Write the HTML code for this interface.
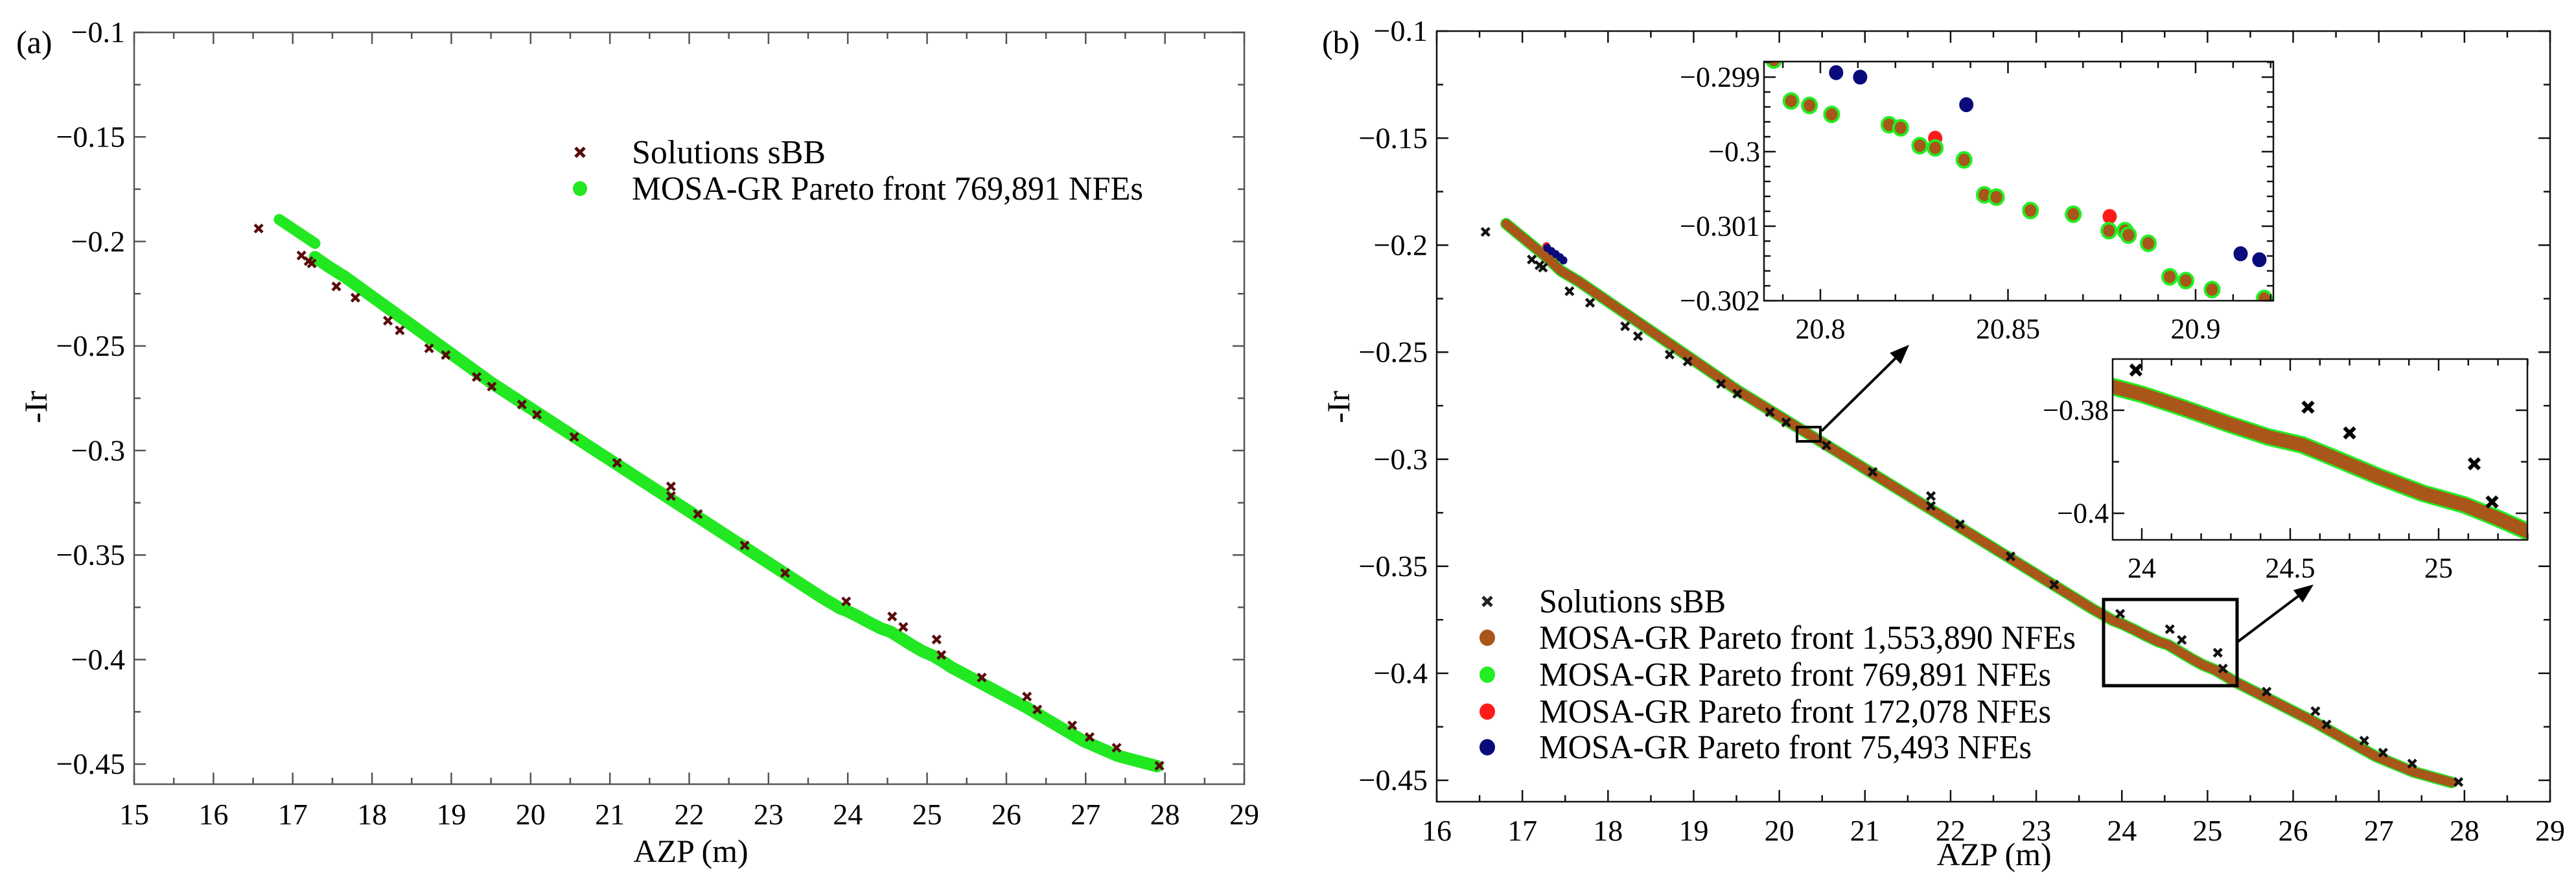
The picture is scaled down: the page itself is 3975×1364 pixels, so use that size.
<!DOCTYPE html>
<html><head><meta charset="utf-8">
<style>
html,body{margin:0;padding:0;background:#fff;}
svg{display:block;font-family:"Liberation Serif","Times New Roman",serif;}
svg text{font-family:"Liberation Serif","Times New Roman",serif;}
</style></head>
<body>
<svg id="fig" width="3975" height="1364" viewBox="0 0 3975 1364" font-family="Liberation Serif, serif" xmlns="http://www.w3.org/2000/svg">
<rect x="0" y="0" width="3975" height="1364" fill="#fff"/>
<g id="pa"></g>
<g id="pb"></g>
</svg>
<script>
// ---- data ----
const sbbX = [16.57,17.11,17.2,17.24,17.55,17.79,18.2,18.35,18.72,18.93,19.32,19.51,19.89,20.08,20.55,21.09,21.77,21.77,22.11,22.7,23.21,23.98,24.56,24.7,25.12,25.18,25.69,26.26,26.39,26.83,27.05,27.39,27.93];
const sbbY = [-0.1938,-0.2067,-0.2094,-0.2105,-0.2215,-0.2269,-0.2379,-0.2425,-0.2511,-0.2543,-0.2648,-0.2694,-0.278,-0.2828,-0.2935,-0.3059,-0.3172,-0.3218,-0.3304,-0.3454,-0.3586,-0.3722,-0.3794,-0.3844,-0.3904,-0.3978,-0.4086,-0.4177,-0.4239,-0.4315,-0.4371,-0.4422,-0.4508];
const frontAseg1X = [16.83,17.28];
const frontAseg1Y = [-0.1895,-0.2009];
const frontX = [17.28,17.45,17.66,19.52,21.59,23.66,23.9,24.0,24.142,24.284,24.426,24.539,24.662,24.804,24.946,25.088,25.2,25.298,26.24,26.96,27.4,27.9];
const frontY = [-0.2075,-0.212,-0.217,-0.268,-0.319,-0.370,-0.3754,-0.3769,-0.3796,-0.3825,-0.3852,-0.3867,-0.3896,-0.393,-0.3961,-0.3984,-0.401,-0.4035,-0.4226,-0.4387,-0.446,-0.451];
const frontBX = [16.81,17.28,17.45,17.66,19.52,21.59,23.66,23.9,24.0,24.142,24.284,24.426,24.539,24.662,24.804,24.946,25.088,25.2,25.298,26.24,26.96,27.4,27.85];
const frontBY = [-0.19,-0.2055,-0.212,-0.217,-0.268,-0.319,-0.370,-0.3754,-0.3769,-0.3796,-0.3825,-0.3852,-0.3867,-0.3896,-0.393,-0.3961,-0.3984,-0.401,-0.4035,-0.4226,-0.4387,-0.446,-0.451];
const blueMainX = [17.29,17.34,17.39,17.44,17.48];
const blueMainY = [-0.2013,-0.2028,-0.2042,-0.2057,-0.2071];
const redMainX = [17.28];
const redMainY = [-0.2005];
const in1BrownX = [20.7876,20.7922,20.7971,20.803,20.8183,20.8214,20.8265,20.8306,20.8383,20.8437,20.8469,20.856,20.8674,20.8769,20.8812,20.8821,20.8874,20.8931,20.8974,20.9044,20.9183];
const in1BrownY = [-0.29877,-0.29932,-0.29938,-0.2995,-0.29964,-0.29968,-0.29992,-0.29995,-0.30011,-0.30058,-0.30061,-0.30079,-0.30084,-0.30106,-0.30106,-0.30112,-0.30123,-0.30168,-0.30173,-0.30185,-0.30197];
const in1RedX = [20.8306,20.8771];
const in1RedY = [-0.29982,-0.30087];
const in1BlueX = [20.8042,20.8106,20.8389,20.912,20.917];
const in1BlueY = [-0.29894,-0.299,-0.29937,-0.30137,-0.30145];
const ticksAx = [15,16,17,18,19,20,21,22,23,24,25,26,27,28,29];
const ticksBx = [16,17,18,19,20,21,22,23,24,25,26,27,28,29];
const ticksY = [-0.1,-0.15,-0.2,-0.25,-0.3,-0.35,-0.4,-0.45];
const ticksIn1X = [20.8,20.85,20.9];
const ticksIn1Y = [-0.299,-0.3,-0.301,-0.302];
const ticksIn2X = [24,24.5,25];
const ticksIn2Y = [-0.38,-0.4];

const NS = "http://www.w3.org/2000/svg";
const FF = "Liberation Serif, Times New Roman, serif";
function mk(parent, tag, attrs, text){
  const e = document.createElementNS(NS, tag);
  for (const k in attrs) e.setAttribute(k, attrs[k]);
  if (tag === "text") e.setAttribute("font-family", FF);
  if (text !== undefined) e.textContent = text;
  parent.appendChild(e); return e;
}
function scale(d0,d1,r0,r1){ return v => r0 + (v-d0)/(d1-d0)*(r1-r0); }
function fmt(v){ return (v<0?"\u2212":"")+String(Math.abs(v)); }

function axes(g, o){
  const {sx, sy, x0,x1,y0,y1, xt, yt, xminor, yminor, col, lw, fs, tl, ml, name} = o;
  const box = mk(g,"rect",{x:x0,y:y0,width:x1-x0,height:y1-y0,fill:"none",stroke:col,"stroke-width":lw});
  
  
  const xd0 = o.xd[0], xd1 = o.xd[1], yd0=o.yd[0], yd1=o.yd[1];
  for (let k = Math.ceil(Math.min(xd0,xd1)/xminor-1e-6); k*xminor <= Math.max(xd0,xd1)+1e-9; k++){
    const v = k*xminor; const X = sx(v); if (X<x0-0.5||X>x1+0.5) continue;
    const major = xt.some(t=>Math.abs(t-v)<xminor/10);
    const L = major?tl:ml;
    const t1 = mk(g,"line",{x1:X,y1:y1,x2:X,y2:y1-L,stroke:col,"stroke-width":lw});
    
    
    const t2 = mk(g,"line",{x1:X,y1:y0,x2:X,y2:y0+L,stroke:col,"stroke-width":lw});
    
    
  }
  const ylo=Math.min(yd0,yd1), yhi=Math.max(yd0,yd1);
  for (let k = Math.ceil(ylo/yminor-1e-6); k*yminor <= yhi+1e-12; k++){
    const v = k*yminor; const Y = sy(v); if (Y<y0-0.5||Y>y1+0.5) continue;
    const major = yt.some(t=>Math.abs(t-v)<yminor/10);
    const L = major?tl:ml;
    const t1 = mk(g,"line",{x1:x0,y1:Y,x2:x0+L,y2:Y,stroke:col,"stroke-width":lw});
    
    
    const t2 = mk(g,"line",{x1:x1,y1:Y,x2:x1-L,y2:Y,stroke:col,"stroke-width":lw});
    
    
  }
  xt.forEach(v=>{
    const t = mk(g,"text",{x:sx(v),y:y1+o.xlabOff,"font-size":fs,"text-anchor":"middle"},String(v));
    
    
  });
  yt.forEach(v=>{
    const t = mk(g,"text",{x:x0-o.ylabOff,y:sy(v)+fs*0.33,"font-size":fs,"text-anchor":"end"},fmt(v));
    
    
  });
}
function polyline(g, sx, sy, xs, ys, col, w, nm){
  const pts = xs.map((x,i)=>sx(x).toFixed(1)+","+sy(ys[i]).toFixed(1)).join(" ");
  const p = mk(g,"polyline",{points:pts,fill:"none",stroke:col,"stroke-width":w,"stroke-linecap":"round","stroke-linejoin":"round"});
  
  
  return p;
}
function cross(g, X, Y, s, col, w, nm){
  const p = mk(g,"path",{d:`M${X-s},${Y-s}L${X+s},${Y+s}M${X-s},${Y+s}L${X+s},${Y-s}`,stroke:col,"stroke-width":w,fill:"none"});
  
  
}
function dot(g, X, Y, r, fill, stroke, sw, nm){
  const c = mk(g,"ellipse",{cx:X,cy:Y,rx:r,ry:r*1.05,fill:fill});
  if (stroke){ c.setAttribute("stroke",stroke); c.setAttribute("stroke-width",sw); }
  
  
}
function clip(id, x,y,w,h){
  const svg=document.getElementById("fig");
  let defs = svg.querySelector("defs"); if(!defs) defs = mk(svg,"defs",{});
  const cp = mk(defs,"clipPath",{id:id}); mk(cp,"rect",{x:x,y:y,width:w,height:h});
}

// ---------- Panel A ----------
(function(){
  const g = document.getElementById("pa");
  const x0=207,x1=1920,y0=50,y1=1210;
  const sx = scale(15,29,x0,x1);
  const sy = scale(-0.1,-0.45,50,1179);
  clip("ca",x0,y0,x1-x0,y1-y0);
  const d = mk(g,"g",{"clip-path":"url(#ca)"});
  polyline(d,sx,sy,frontAseg1X,frontAseg1Y,"#22e822",17,"front-769891-segment-1");
  polyline(d,sx,sy,frontX,frontY,"#22e822",19,"front-769891-line");
  sbbX.forEach((x,i)=>cross(d,sx(x),sy(sbbY[i]),6,"#5a0b0b",4.5,"sbb-solution"));
  axes(g,{sx,sy,x0,x1,y0,y1,xd:[15,29],yd:[-0.46,-0.1],xt:ticksAx,yt:ticksY,xminor:0.5,yminor:0.025,col:"#555",lw:2.5,fs:46,tl:18,ml:10,xlabOff:62,ylabOff:14,name:"panel-a"});
  const t=mk(g,"text",{x:25,y:82,"font-size":50},"(a)");
   
  const xt=mk(g,"text",{x:1066,y:1330,"font-size":50,"text-anchor":"middle"},"AZP (m)");
   
  const yt=mk(g,"text",{x:0,y:0,"font-size":50,"text-anchor":"middle",transform:"translate(72,628) rotate(-90)"},"-Ir");
   
  const lg = mk(g,"g",{});  
  cross(lg,895,235,7,"#5a0b0b",5,"legend-marker-sbb");
  const l1=mk(lg,"text",{x:975,y:252,"font-size":52},"Solutions sBB");
   
  dot(lg,895,291,11,"#22e822",null,0,"legend-marker-769891");
  const l2=mk(lg,"text",{x:975,y:308,"font-size":52,textLength:789,lengthAdjust:"spacingAndGlyphs"},"MOSA-GR Pareto front 769,891 NFEs");
   
})();

// ---------- Panel B ----------
(function(){
  const g = document.getElementById("pb");
  const x0=2217,x1=3935,y0=48,y1=1237;
  const sx = scale(16,29,x0,x1);
  const sy = scale(-0.1,-0.45,48,1204);
  clip("cb",x0,y0,x1-x0,y1-y0);
  const d = mk(g,"g",{"clip-path":"url(#cb)"});
  polyline(d,sx,sy,frontBX,frontBY,"#28e028",18,"front-769891-line-b");
  polyline(d,sx,sy,frontBX,frontBY,"#a8561a",14,"front-1553890-line");
  redMainX.forEach((x,i)=>dot(d,sx(x),sy(redMainY[i]),6,"#ff1a1a",null,0,"front-172078-point"));
  blueMainX.forEach((x,i)=>dot(d,sx(x),sy(blueMainY[i]),6,"#0a0a7a",null,0,"front-75493-point"));
  sbbX.forEach((x,i)=>cross(d,sx(x),sy(sbbY[i]),6,"#111",4.5,"sbb-solution-b"));
  axes(g,{sx,sy,x0,x1,y0,y1,xd:[16,29],yd:[-0.46,-0.1],xt:ticksBx,yt:ticksY,xminor:0.5,yminor:0.025,col:"#111",lw:2.5,fs:46,tl:18,ml:10,xlabOff:60,ylabOff:14,name:"panel-b"});
  const t=mk(g,"text",{x:2040,y:82,"font-size":50},"(b)");
   
  const xt=mk(g,"text",{x:3077,y:1335,"font-size":50,"text-anchor":"middle"},"AZP (m)");
   
  const yt=mk(g,"text",{x:0,y:0,"font-size":50,"text-anchor":"middle",transform:"translate(2082,628) rotate(-90)"},"-Ir");
   
  const zb1=mk(g,"rect",{x:2773,y:659,width:36,height:22,fill:"none",stroke:"#000","stroke-width":4});
   
  const zb2=mk(g,"rect",{x:3246,y:925,width:206,height:133,fill:"none",stroke:"#000","stroke-width":5});
   
  function arrow(xa,ya,xb,yb,nm){
    const ag=mk(g,"g",{});  
    const ang=Math.atan2(yb-ya,xb-xa), L=30, W=12;
    const bx=xb-L*Math.cos(ang), by=yb-L*Math.sin(ang);
    mk(ag,"line",{x1:xa,y1:ya,x2:bx,y2:by,stroke:"#000","stroke-width":4});
    const px=-Math.sin(ang)*W, py=Math.cos(ang)*W;
    mk(ag,"polygon",{points:`${xb},${yb} ${bx+px},${by+py} ${bx-px},${by-py}`,fill:"#000"});
  }
  arrow(2811,665,2946,532,"zoom-arrow-1");
  arrow(3452,991,3570,902,"zoom-arrow-2");
  const lg = mk(g,"g",{});  
  const rows=[928,984,1041,1098,1153];
  cross(lg,2295,rows[0],7,"#222",5,"legend-marker-sbb-b");
  const cols=["#a8561a","#22ee22","#ff1a1a","#0a0a7a"];
  const labs=["Solutions sBB","MOSA-GR Pareto front 1,553,890 NFEs","MOSA-GR Pareto front 769,891 NFEs","MOSA-GR Pareto front 172,078 NFEs","MOSA-GR Pareto front 75,493 NFEs"];
  const lens=[288,828,790,790,760];
  for(let i=1;i<5;i++) dot(lg,2295,rows[i],12,cols[i-1],null,0,"legend-marker-"+i);
  labs.forEach((s,i)=>{
    const tx=mk(lg,"text",{x:2375,y:rows[i]+17,"font-size":52,textLength:lens[i],lengthAdjust:"spacingAndGlyphs"},s);
     
  });

  // ---- inset 1 ----
  const i1x0=2722,i1x1=3508,i1y0=95,i1y1=464;
  const s1x=scale(20.8,20.9,2809,3388), s1y=scale(-0.299,-0.302,119,464);
  const i1=mk(g,"g",{});  
  mk(i1,"rect",{x:i1x0,y:i1y0,width:i1x1-i1x0,height:i1y1-i1y0,fill:"#fff"});
  clip("ci1",i1x0,i1y0,i1x1-i1x0,i1y1-i1y0);
  const d1=mk(i1,"g",{"clip-path":"url(#ci1)"});
  in1BlueX.forEach((x,i)=>dot(d1,s1x(x),s1y(in1BlueY[i]),11,"#0a0a7a",null,0,"inset1-75493-point"));
  in1RedX.forEach((x,i)=>dot(d1,s1x(x),s1y(in1RedY[i]),11,"#ff1a1a",null,0,"inset1-172078-point"));
  in1BrownX.forEach((x,i)=>dot(d1,s1x(x),s1y(in1BrownY[i]),11,"#a8561a","#22ee22",4,"inset1-1553890-point"));
  axes(i1,{sx:s1x,sy:s1y,x0:i1x0,x1:i1x1,y0:i1y0,y1:i1y1,xd:[20.785,20.921],yd:[-0.302,-0.2988],xt:ticksIn1X,yt:ticksIn1Y,xminor:0.01,yminor:0.0002,col:"#111",lw:2.5,fs:44,tl:18,ml:10,xlabOff:58,ylabOff:6,name:"inset-1"});

  // ---- inset 2 ----
  const i2x0=3260,i2x1=3900,i2y0=554,i2y1=833;
  const s2x=scale(24,25,3305,3763), s2y=scale(-0.38,-0.4,633,792);
  const i2=mk(g,"g",{});  
  mk(i2,"rect",{x:i2x0,y:i2y0,width:i2x1-i2x0,height:i2y1-i2y0,fill:"#fff"});
  clip("ci2",i2x0,i2y0,i2x1-i2x0,i2y1-i2y0);
  const d2=mk(i2,"g",{"clip-path":"url(#ci2)"});
  polyline(d2,s2x,s2y,frontX,frontY,"#22ee22",27,"inset2-769891-line");
  polyline(d2,s2x,s2y,frontX,frontY,"#a8561a",21,"inset2-1553890-line");
  sbbX.forEach((x,i)=>cross(d2,s2x(x),s2y(sbbY[i]),8,"#000",6,"inset2-sbb-solution"));
  axes(i2,{sx:s2x,sy:s2y,x0:i2x0,x1:i2x1,y0:i2y0,y1:i2y1,xd:[23.9,25.3],yd:[-0.4052,-0.3701],xt:ticksIn2X,yt:ticksIn2Y,xminor:0.1,yminor:0.01,col:"#111",lw:2.5,fs:44,tl:18,ml:10,xlabOff:58,ylabOff:6,name:"inset-2"});
})();
</script>
</body></html>
